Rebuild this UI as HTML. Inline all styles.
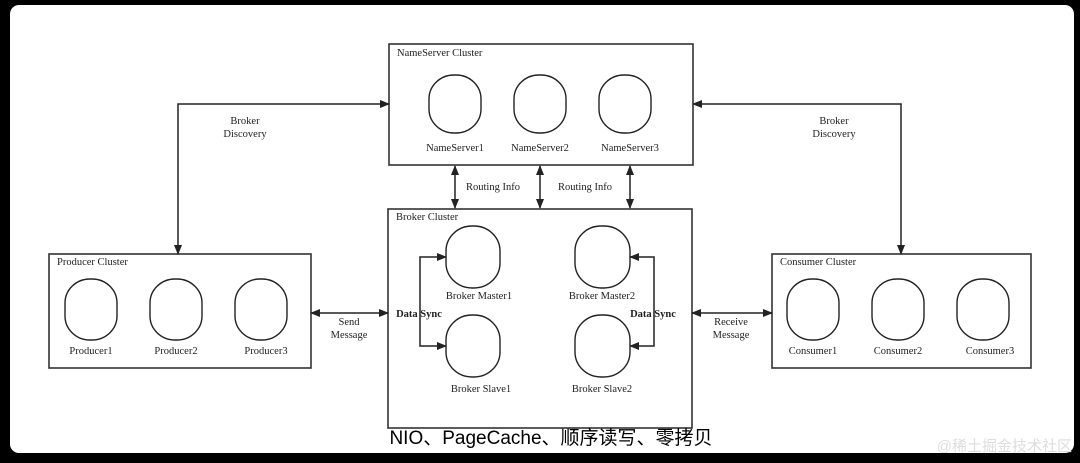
<!DOCTYPE html><html><head><meta charset="utf-8"><style>
body{margin:0;width:1080px;height:463px;background:#000;overflow:hidden}
.w{position:absolute;left:10px;top:5px;width:1064px;height:448px;background:#fff;border-radius:9px}
svg{position:absolute;left:0;top:0}
text{font-family:"Liberation Serif",serif;font-size:10.5px;fill:#222}
</style></head><body><div class="w"></div>
<svg width="1080" height="463">
<defs><marker id="b" markerWidth="10" markerHeight="8" refX="9" refY="4" orient="auto-start-reverse" markerUnits="userSpaceOnUse"><path d="M0,0L10,4L0,8z" fill="#222"/></marker></defs>
<g fill="none" stroke="#333" stroke-width="1.6">
<rect x="389" y="44" width="304" height="121"/>
<rect x="388" y="209" width="304" height="219"/>
<rect x="49" y="254" width="262" height="114"/>
<rect x="772" y="254" width="259" height="114"/>
</g>
<g fill="none" stroke="#222" stroke-width="1.4">
<rect x="429" y="75" width="52" height="58" rx="25" ry="24"/>
<rect x="514" y="75" width="52" height="58" rx="25" ry="24"/>
<rect x="599" y="75" width="52" height="58" rx="25" ry="24"/>
<rect x="65" y="279" width="52" height="61" rx="25" ry="24"/>
<rect x="150" y="279" width="52" height="61" rx="25" ry="24"/>
<rect x="235" y="279" width="52" height="61" rx="25" ry="24"/>
<rect x="787" y="279" width="52" height="61" rx="25" ry="24"/>
<rect x="872" y="279" width="52" height="61" rx="25" ry="24"/>
<rect x="957" y="279" width="52" height="61" rx="25" ry="24"/>
<rect x="446" y="226" width="54" height="62" rx="26" ry="25"/>
<rect x="575" y="226" width="55" height="62" rx="26" ry="25"/>
<rect x="446" y="315" width="54" height="62" rx="26" ry="25"/>
<rect x="575" y="315" width="55" height="62" rx="26" ry="25"/>
</g>
<g fill="none" stroke="#222" stroke-width="1.5" marker-end="url(#b)" marker-start="url(#b)">
<path d="M178,254 V104 H389"/><path d="M693,104 H901 V254"/>
<path d="M455,166 V208"/><path d="M540,166 V208"/><path d="M630,166 V208"/>
<path d="M311,313 H388"/><path d="M692,313 H772"/>
<path d="M446,257 H420 V346 H446"/><path d="M630,257 H654 V346 H630"/>
</g>
<text x="397" y="56">NameServer Cluster</text>
<text x="396" y="220">Broker Cluster</text>
<text x="57" y="265">Producer Cluster</text>
<text x="780" y="265">Consumer Cluster</text>
<g text-anchor="middle">
<text x="455" y="151">NameServer1</text><text x="540" y="151">NameServer2</text><text x="630" y="151">NameServer3</text>
<text x="91" y="354">Producer1</text><text x="176" y="354">Producer2</text><text x="266" y="354">Producer3</text>
<text x="813" y="354">Consumer1</text><text x="898" y="354">Consumer2</text><text x="990" y="354">Consumer3</text>
<text x="479" y="299">Broker Master1</text><text x="602" y="299">Broker Master2</text>
<text x="481" y="392">Broker Slave1</text><text x="602" y="392">Broker Slave2</text>
<text x="493" y="190">Routing Info</text><text x="585" y="190">Routing Info</text>
<text x="245" y="124">Broker</text><text x="245" y="137">Discovery</text>
<text x="834" y="124">Broker</text><text x="834" y="137">Discovery</text>
<text x="349" y="325">Send</text><text x="349" y="338">Message</text>
<text x="731" y="325">Receive</text><text x="731" y="338">Message</text>
<text x="419" y="317" style="font-weight:bold">Data Sync</text>
<text x="653" y="317" style="font-weight:bold">Data Sync</text>
</g>
<text x="551" y="444" text-anchor="middle" style="font-family:'Liberation Sans','Noto Sans CJK SC',sans-serif;font-size:19px;fill:#000">NIO、PageCache、顺序读写、零拷贝</text>
<text x="1072" y="451" text-anchor="end" style="font-family:'Liberation Sans','Noto Sans CJK SC',sans-serif;font-size:15px;fill:#ddd">@稀土掘金技术社区</text>
</svg></body></html>
